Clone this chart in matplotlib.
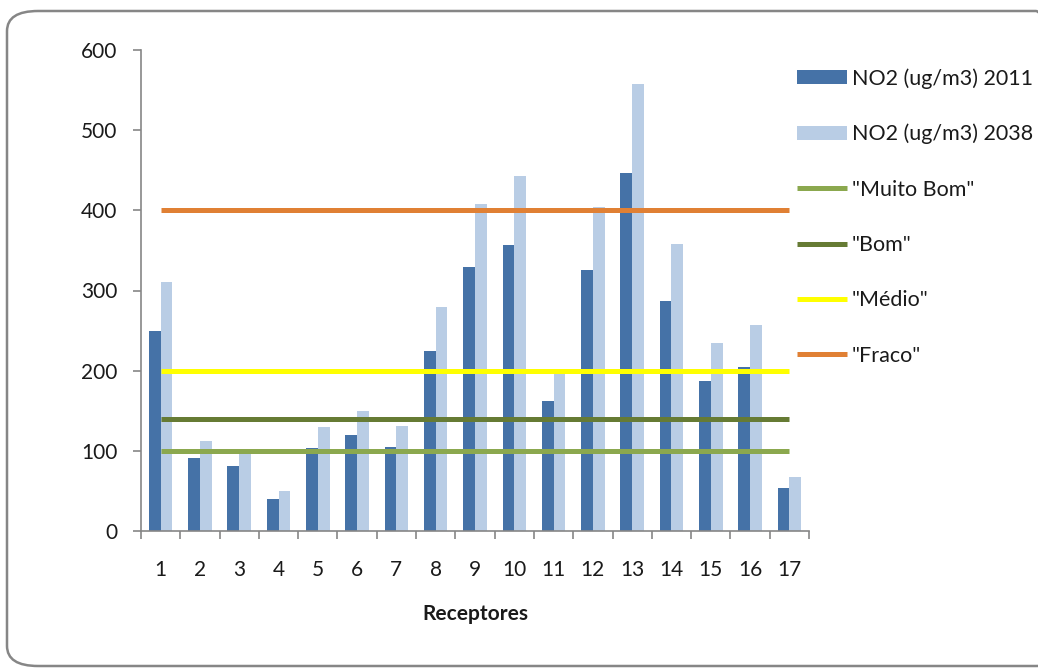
import matplotlib.pyplot as plt
from matplotlib.patches import FancyBboxPatch
import numpy as np

plt.rcParams['font.family'] = ['Lato', 'DejaVu Sans']

# NO2 concentrations per receptor (ug/m3)
receptores = list(range(1, 18))
no2_2011 = [250, 91, 81, 40, 104, 120, 105, 225, 329, 357, 162, 326, 447, 287, 187, 205, 54]
no2_2038 = [311, 112, 97, 50, 130, 150, 131, 279, 408, 443, 202, 404, 558, 358, 235, 257, 67]

# air quality class limits
classes = ['"Muito Bom"', '"Bom"', '"Médio"', '"Fraco"']
limites = [100, 140, 200, 400]
cores_classes = ['#8BA84E', '#667B34', '#FFFF00', '#E08034']

fig = plt.figure(figsize=(10.38, 6.70), dpi=100)
ax = fig.add_axes([141 / 1038, 139 / 670, 668 / 1038, 481 / 670])

x = np.array(receptores)
w = 0.3
b1 = ax.bar(x - w / 2, no2_2011, width=w, color='#4572A7', label='NO2 (ug/m3) 2011', zorder=2)
b2 = ax.bar(x + w / 2, no2_2038, width=w, color='#B9CDE5', label='NO2 (ug/m3) 2038', zorder=2)

linhas = []
for nome, lim, cor in zip(classes, limites, cores_classes):
    l, = ax.plot(x, [lim] * len(x), color=cor, lw=3.6, label=nome, zorder=3,
                 solid_capstyle='butt')
    linhas.append(l)

ax.set_xlim(0.5, 17.5)
ax.set_ylim(0, 600)
ax.set_yticks(range(0, 601, 100))
ax.set_xticks(x)
ax.set_xticklabels([str(r) for r in receptores])
ax.set_xticks(np.arange(0.5, 18, 1), minor=True)

for s in ['top', 'right']:
    ax.spines[s].set_visible(False)
for s in ['left', 'bottom']:
    ax.spines[s].set_color('#868686')
    ax.spines[s].set_linewidth(1.2)

ax.tick_params(axis='y', length=6, width=1.2, color='#868686', pad=11,
               labelsize=15, labelcolor='#1a1a1a')
ax.tick_params(axis='x', which='major', length=0, pad=21,
               labelsize=15, labelcolor='#1a1a1a')
ax.tick_params(axis='x', which='minor', length=6, width=1.2, color='#868686')

ax.set_xlabel('Receptores', fontsize=15, fontweight='bold', color='#1a1a1a', va='top')
ax.xaxis.set_label_coords(0.5, -(604 - 531) / 481)

ax.legend(handles=[b1, b2] + linhas,
          loc='upper left', bbox_to_anchor=(797 / 1038, (670 - 68) / 670),
          bbox_transform=fig.transFigure, frameon=False, fontsize=15.5,
          handlelength=2.3, handleheight=0.65, handletextpad=0.25,
          labelspacing=1.64, borderpad=0, borderaxespad=0, labelcolor='#1a1a1a')

# rounded chart border, right side runs off the canvas
border = FancyBboxPatch((7 / 1038, 4 / 670), 1060 / 1038, 655 / 670,
                        boxstyle='round,pad=0,rounding_size=0.03',
                        transform=fig.transFigure, fill=False,
                        edgecolor='#868686', linewidth=1.8, clip_on=False)
fig.patches.append(border)

fig.savefig('out.png', dpi=100)
